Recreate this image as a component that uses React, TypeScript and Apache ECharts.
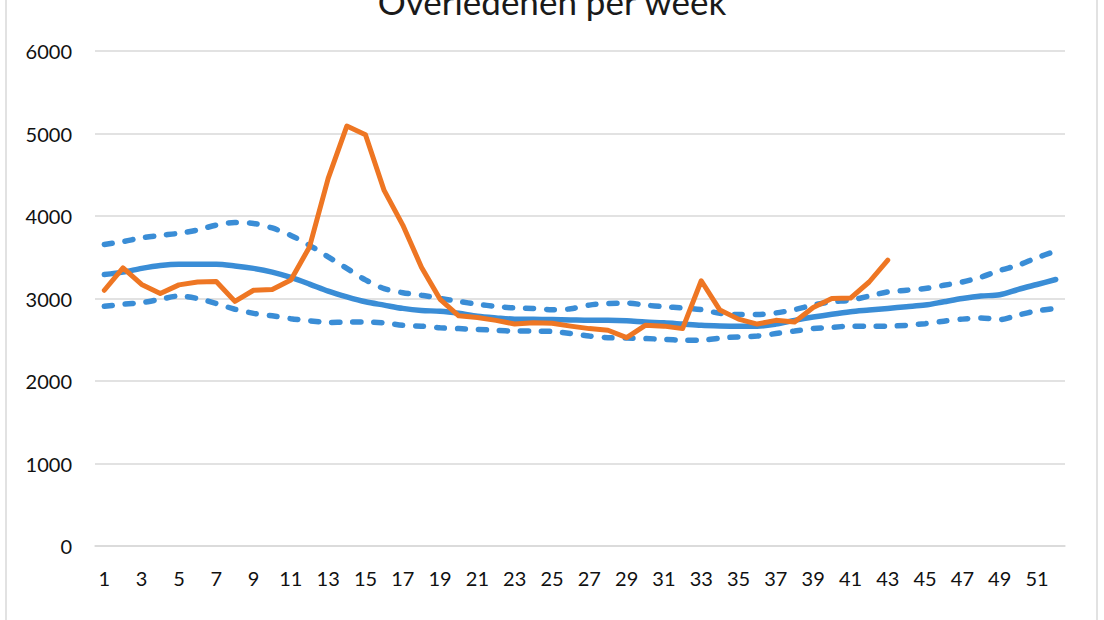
import React, { useEffect, useRef } from "react";
import * as echarts from "echarts";

const weeks: string[] = Array.from({ length: 52 }, (_, i) => String(i + 1));

const observed: number[] = [
  3100, 3370, 3170, 3060, 3165, 3200, 3205, 2965, 3100, 3110, 3225, 3625, 4455, 5090, 4985, 4310, 3890, 3380,
  2990, 2790, 2770, 2735, 2690, 2705, 2700, 2665, 2635, 2615, 2525, 2675, 2665, 2635, 3215, 2860, 2750, 2690,
  2735, 2715, 2890, 3000, 3005, 3200, 3465,
];

const expected: number[] = [
  3290, 3320, 3365, 3400, 3415, 3415, 3415, 3395, 3365, 3320, 3255, 3175, 3090, 3020, 2960, 2920, 2880, 2855,
  2845, 2820, 2785, 2765, 2750, 2750, 2745, 2740, 2735, 2735, 2730, 2715, 2705, 2690, 2675, 2668, 2665, 2665,
  2690, 2735, 2775, 2810, 2840, 2860, 2880, 2900, 2920, 2960, 3000, 3030, 3045, 3110, 3170, 3230,
];

const upperBound: number[] = [
  3655, 3690, 3735, 3765, 3790, 3830, 3890, 3920, 3910, 3855, 3765, 3645, 3505, 3365, 3225, 3120, 3070, 3040,
  3000, 2965, 2930, 2905, 2885, 2880, 2865, 2875, 2920, 2940, 2945, 2920, 2900, 2885, 2865, 2820, 2805, 2805,
  2825, 2865, 2920, 2960, 2980, 3030, 3080, 3100, 3120, 3160, 3200, 3260, 3340, 3405, 3495, 3575,
];

const lowerBound: number[] = [
  2905, 2930, 2950, 2990, 3030, 3000, 2940, 2870, 2820, 2790, 2755, 2730, 2710, 2715, 2715, 2705, 2675, 2665,
  2645, 2635, 2625, 2615, 2605, 2605, 2600, 2575, 2545, 2525, 2520, 2515, 2505, 2495, 2495, 2520, 2535, 2545,
  2575, 2605, 2635, 2650, 2665, 2665, 2665, 2675, 2695, 2725, 2750, 2765, 2745, 2800, 2850, 2880,
];

const TITLE = "Overledenen per week";
const BLUE = "#3a8dd6";
const ORANGE = "#ee7623";
const FONT = "Lato, 'Noto Sans', sans-serif";

export default function App() {
  const ref = useRef<HTMLDivElement>(null);

  useEffect(() => {
    document.body.style.margin = "0";
    if (!ref.current) return;
    const chart = echarts.init(ref.current, undefined, { renderer: "svg" });
    const dashed = {
      color: BLUE,
      width: 5.5,
      type: [8, 13] as number[],
      cap: "round" as const,
    };
    chart.setOption({
      animation: false,
      backgroundColor: "#ffffff",
      title: {
        text: TITLE,
        left: "center",
        top: -22,
        textStyle: { fontFamily: FONT, fontSize: 35, fontWeight: "normal", color: "#1a1a1a" },
      },
      graphic: [
        {
          type: "rect",
          shape: { x: 6, y: -10, width: 1091, height: 640 },
          style: { fill: "none", stroke: "#d9d9d9", lineWidth: 1.5 },
          silent: true,
        },
      ],
      grid: { left: 95, right: 39, top: 51, bottom: 74, containLabel: false },
      xAxis: {
        type: "category",
        data: weeks,
        boundaryGap: true,
        axisLine: { show: true, lineStyle: { color: "#d9d9d9", width: 1.5 } },
        axisTick: { show: false },
        axisLabel: { interval: 1, margin: 22, fontFamily: FONT, fontSize: 20, color: "#111" },
      },
      yAxis: {
        type: "value",
        min: 0,
        max: 6000,
        interval: 1000,
        axisLine: { show: false },
        axisTick: { show: false },
        splitLine: { lineStyle: { color: "#d9d9d9", width: 1.5 } },
        axisLabel: {
          margin: 23,
          fontFamily: FONT,
          fontSize: 20,
          color: "#111",
          formatter: (v: number) => String(v),
        },
      },
      series: [
        {
          name: "Ondergrens",
          type: "line",
          data: lowerBound,
          symbol: "none",
          smooth: 0.3,
          lineStyle: dashed,
        },
        {
          name: "Bovengrens",
          type: "line",
          data: upperBound,
          symbol: "none",
          smooth: 0.3,
          lineStyle: dashed,
        },
        {
          name: "Verwacht",
          type: "line",
          data: expected,
          symbol: "none",
          smooth: 0.3,
          lineStyle: { color: BLUE, width: 5.5, cap: "round" },
        },
        {
          name: "Overledenen",
          type: "line",
          data: observed,
          symbol: "none",
          lineStyle: { color: ORANGE, width: 5, join: "round", cap: "round" },
        },
      ],
    });
    return () => chart.dispose();
  }, []);

  return <div ref={ref} style={{ width: 1104, height: 620 }} />;
}
